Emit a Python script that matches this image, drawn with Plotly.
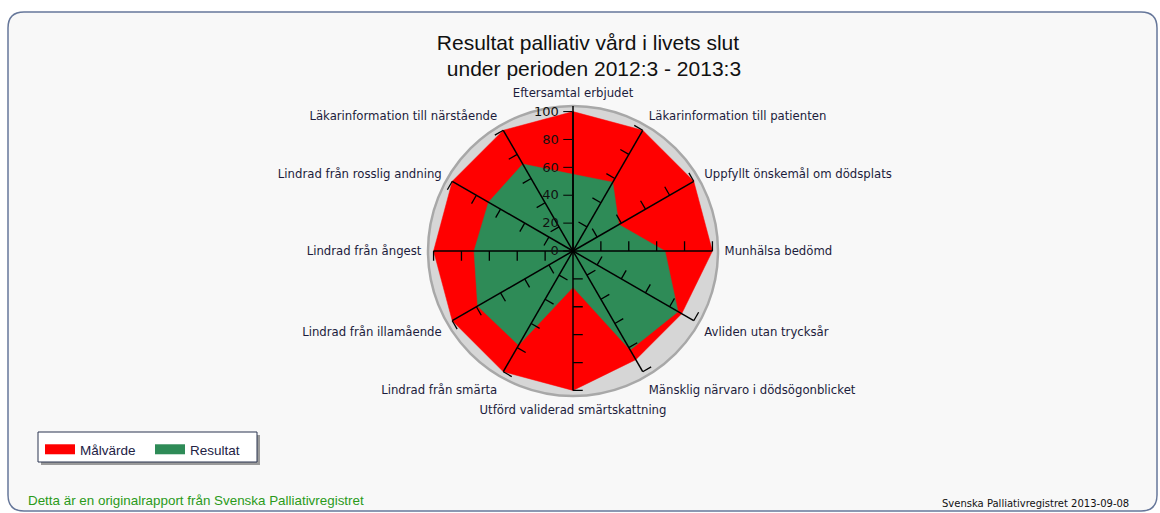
import math
import plotly.graph_objects as go

categories = [
    "Eftersamtal erbjudet",
    "Läkarinformation till patienten",
    "Uppfyllt önskemål om dödsplats",
    "Munhälsa bedömd",
    "Avliden utan trycksår",
    "Mänsklig närvaro i dödsögonblicket",
    "Utförd validerad smärtskattning",
    "Lindrad från smärta",
    "Lindrad från illamående",
    "Lindrad från ångest",
    "Lindrad från rosslig andning",
    "Läkarinformation till närstående",
]
malvarde = [100, 100, 100, 100, 90, 90, 100, 100, 100, 100, 100, 100]
resultat = [55, 57, 38, 66, 87, 82, 26, 78, 79, 71, 70, 72]
radial_ticks = [0, 20, 40, 60, 80, 100]
series_names = ["Målvärde", "Resultat"]
series_colors = ["#ff0000", "#2e8b57"]

W, H = 1160, 513
n = len(categories)
angles = [i * 360.0 / n for i in range(n)]

fig = go.Figure()

def closed(v):
    return list(v) + [v[0]]

for vals, name, col in zip([malvarde, resultat], series_names, series_colors):
    fig.add_trace(go.Scatterpolar(
        r=closed(vals), theta=closed(angles), name=name, legendgroup=name,
        mode="lines", fill="toself", fillcolor=col,
        line=dict(color=col, width=0.5), hoverinfo="skip", showlegend=False))

# spokes
sr, st = [], []
for a in angles:
    sr += [0, radial_ticks[-1], None]
    st += [a, a, None]
fig.add_trace(go.Scatterpolar(r=sr, theta=st, mode="lines",
                              line=dict(color="black", width=1.5),
                              showlegend=False, hoverinfo="skip"))

# tick marks on spokes (counter-clockwise side)
L = 7.0
tr, tt = [], []
for a in angles[1:]:
    for v in radial_ticks[1:]:
        tr += [v, math.hypot(v, L), None]
        tt += [a, a - math.degrees(math.atan2(L, v)), None]
fig.add_trace(go.Scatterpolar(r=tr, theta=tt, mode="lines",
                              line=dict(color="black", width=1.3),
                              showlegend=False, hoverinfo="skip"))

# legend entries (thick swatches)
for name, col in zip(series_names, series_colors):
    fig.add_trace(go.Scatterpolar(r=[None], theta=[None], name=name, legendgroup=name,
                                  mode="lines", line=dict(color=col, width=12),
                                  hoverinfo="skip", showlegend=True))

# geometry of polar domain in pixels
cx, cy, R = 573, 251, 145
dom_x = [(cx - R) / W, (cx + R) / W]
dom_y = [1 - (cy + R) / H, 1 - (cy - R) / H]

def px(x):
    return x / W

def py(y):
    return 1 - y / H

# rounded frame
x0, y0, x1, y1, rr = 8, 12, 1157, 511, 16
path = (f"M {px(x0+rr)},{py(y0)} L {px(x1-rr)},{py(y0)} "
        f"Q {px(x1)},{py(y0)} {px(x1)},{py(y0+rr)} "
        f"L {px(x1)},{py(y1-rr)} Q {px(x1)},{py(y1)} {px(x1-rr)},{py(y1)} "
        f"L {px(x0+rr)},{py(y1)} Q {px(x0)},{py(y1)} {px(x0)},{py(y1-rr)} "
        f"L {px(x0)},{py(y0+rr)} Q {px(x0)},{py(y0)} {px(x0+rr)},{py(y0)} Z")

shapes = [
    dict(type="path", xref="paper", yref="paper", path=path,
         fillcolor="#f8f8f8", line=dict(color="#66779a", width=1.5), layer="below"),
    # legend shadow
    dict(type="rect", xref="paper", yref="paper",
         x0=px(41), x1=px(260), y0=py(465), y1=py(435),
         fillcolor="#9a9a9a", line=dict(width=0), layer="below"),
    dict(type="rect", xref="paper", yref="paper",
         x0=px(38), x1=px(257), y0=py(462), y1=py(432),
         fillcolor="white", line=dict(color="#2a3550", width=1), layer="below"),
]

title_font = dict(family="Liberation Sans, Arial", size=21, color="#111111")

fig.update_layout(
    width=W, height=H,
    margin=dict(l=0, r=0, t=0, b=0),
    paper_bgcolor="white",
    font=dict(family="DejaVu Sans", color="#1c1c3c"),
    title=dict(text="Resultat palliativ vård i livets slut",
               x=588 / W, xanchor="center", y=py(43), yanchor="middle",
               font=title_font),
    shapes=shapes,
    polar=dict(
        domain=dict(x=dom_x, y=dom_y),
        bgcolor="#d6d6d6",
        radialaxis=dict(range=[0, 104], tickvals=radial_ticks, showgrid=False,
                        showline=True, linecolor="black", linewidth=1.5,
                        ticks="outside", ticklen=9, tickcolor="black", tickwidth=1.3,
                        angle=90, side="counterclockwise", tickangle=90,
                        tickfont=dict(family="DejaVu Sans", size=13, color="#111111"),
                        layer="above traces"),
        angularaxis=dict(direction="clockwise", rotation=90, thetaunit="degrees",
                         tickmode="array", tickvals=angles, ticktext=categories,
                         showgrid=False, ticks="outside", ticklen=3,
                         tickcolor="rgba(0,0,0,0)", showline=True,
                         linecolor="#a8a8a8", linewidth=2.5,
                         tickfont=dict(family="DejaVu Sans", size=11.7, color="#1c1c3c")),
    ),
    showlegend=True,
    legend=dict(orientation="h", x=px(40), y=py(434), xanchor="left", yanchor="top",
                bgcolor="rgba(0,0,0,0)", borderwidth=0,
                font=dict(family="Liberation Sans, Arial", size=13.5, color="#222244"),
                itemwidth=30, traceorder="normal", entrywidth=65, entrywidthmode="pixels"),
    annotations=[
        dict(text=" under perioden 2012:3 - 2013:3",
             xref="paper", yref="paper", x=px(591), y=py(68), xanchor="center", yanchor="middle",
             showarrow=False, font=title_font),
        dict(text="Detta är en originalrapport från Svenska Palliativregistret",
             xref="paper", yref="paper", x=px(26), y=py(500), xanchor="left", yanchor="middle",
             showarrow=False, font=dict(family="Liberation Sans, Arial", size=13.4, color="#2a9a1a")),
        dict(text="Svenska Palliativregistret 2013-09-08",
             xref="paper", yref="paper", x=px(1131), y=py(503), xanchor="right", yanchor="middle",
             showarrow=False, font=dict(family="DejaVu Sans", size=10, color="#111111")),
    ],
)

fig.write_html("out.html", config={"displayModeBar": False},
               post_script="document.body.style.margin='0px';")
